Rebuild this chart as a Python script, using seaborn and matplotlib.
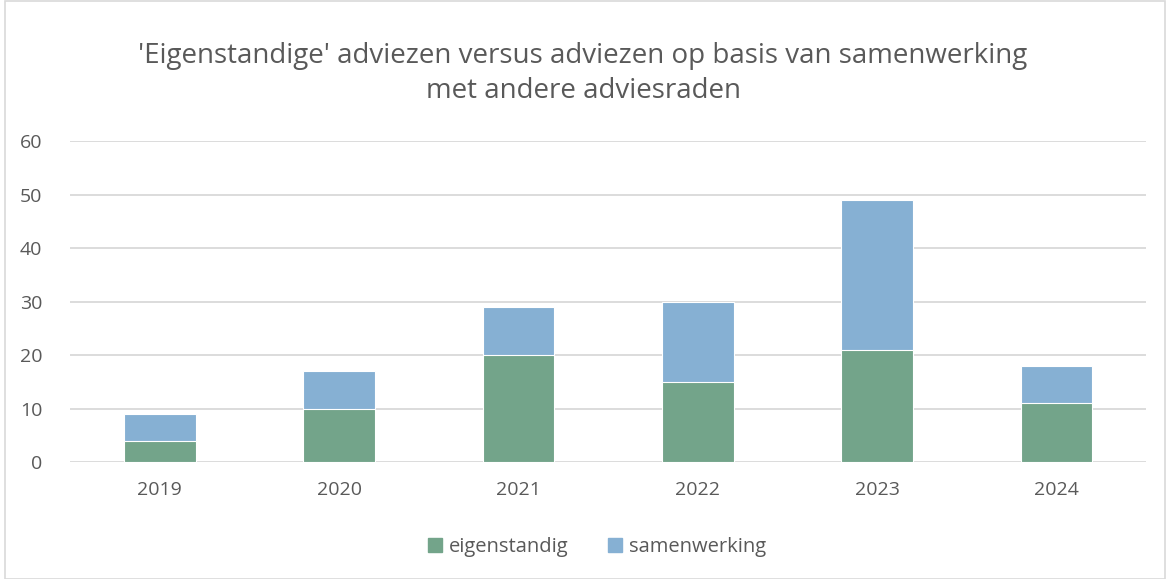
import pandas as pd
import seaborn as sns
import matplotlib.pyplot as plt
from matplotlib.patches import Patch, Rectangle

years = ['2019', '2020', '2021', '2022', '2023', '2024']
eigenstandig = [4, 10, 20, 15, 21, 11]
samenwerking = [5, 7, 9, 15, 28, 7]

df = pd.DataFrame({'Jaar': years, 'eigenstandig': eigenstandig, 'samenwerking': samenwerking})
df['totaal'] = df['eigenstandig'] + df['samenwerking']

green = '#73A48A'
blue = '#86B0D3'
grey = '#595959'

sns.set_style('white')
plt.rcParams['font.family'] = ['Open Sans', 'DejaVu Sans']

fig = plt.figure(figsize=(11.66, 5.79), dpi=100)
ax = fig.add_axes([0.060, 0.202, 0.923, 0.554])

# stacked: total in blue first, then the bottom part in green over it
sns.barplot(data=df, x='Jaar', y='totaal', color=blue, width=0.4, saturation=1,
            edgecolor='white', linewidth=0.8, ax=ax)
sns.barplot(data=df, x='Jaar', y='eigenstandig', color=green, width=0.4, saturation=1,
            edgecolor='white', linewidth=0.8, ax=ax)

ax.set_ylim(0, 60)
ax.set_yticks(range(0, 61, 10))
ax.yaxis.grid(True, color='#D9D9D9', linewidth=1.3)
ax.set_axisbelow(True)
for s in ax.spines.values():
    s.set_visible(False)
ax.set_xlabel('')
ax.set_ylabel('')
ax.tick_params(axis='both', length=0, labelsize=14, colors=grey)
ax.tick_params(axis='x', pad=14)
ax.tick_params(axis='y', pad=20)

fig.text(0.5, 0.873, "'Eigenstandige' adviezen versus adviezen op basis van samenwerking\nmet andere adviesraden",
         ha='center', va='center', fontsize=20, color=grey, linespacing=1.3)

handles = [Patch(color=green, label='eigenstandig'), Patch(color=blue, label='samenwerking')]
fig.legend(handles=handles, loc='center', bbox_to_anchor=(0.512, 0.055), ncol=2, frameon=False,
           fontsize=14.5, labelcolor=grey, handlelength=0.7, handleheight=0.7, handletextpad=0.3,
           columnspacing=2.0)

fig.patches.append(Rectangle((0.004, 0.0), 0.995, 0.998, transform=fig.transFigure,
                             fill=False, edgecolor='#D9D9D9', linewidth=1.2))

fig.savefig('out.png', dpi=100)
